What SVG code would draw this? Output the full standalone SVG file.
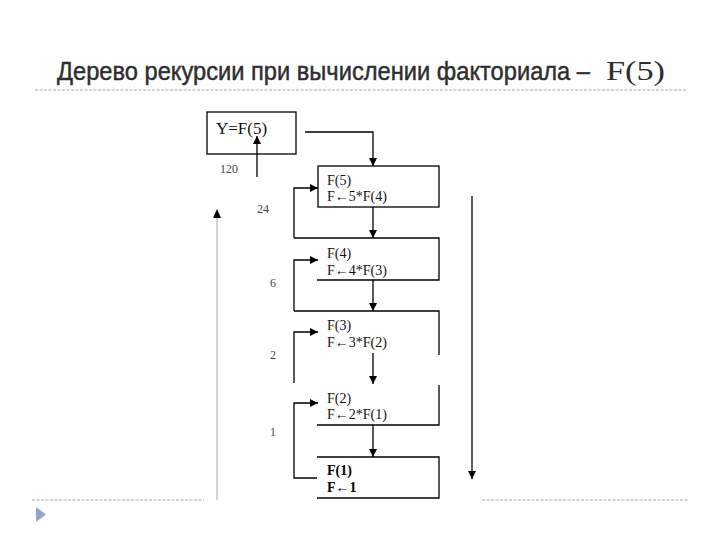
<svg xmlns="http://www.w3.org/2000/svg" width="720" height="540" viewBox="0 0 720 540">
<style>
.title{font-family:"Liberation Sans","DejaVu Sans",sans-serif;font-size:22.5px;fill:#2e2e2e;stroke:#2e2e2e;stroke-width:0.4;}
.titleF{font-family:"Liberation Serif","DejaVu Serif",serif;font-size:27px;fill:#2e2e2e;}
.box{fill:none;stroke:#000;stroke-width:1.3;}
.t{font-family:"Liberation Serif","Times New Roman",serif;font-size:14px;fill:#111;}
.tb{font-family:"Liberation Serif","Times New Roman",serif;font-size:14px;fill:#000;font-weight:bold;}
.ty{font-family:"Liberation Serif","Times New Roman",serif;font-size:17px;fill:#111;}
.lbl{font-family:"Liberation Serif","Times New Roman",serif;font-size:12px;fill:#444;}
.con{fill:none;stroke:#000;stroke-width:1.3;}
.dot{stroke:#aaa;stroke-width:1;stroke-dasharray:3,1.5;}
</style>
<defs>
<marker id="ah" markerUnits="userSpaceOnUse" markerWidth="8" markerHeight="8" refX="8" refY="4" orient="auto">
<path d="M0,0 L8,4 L0,8 Z" fill="#000"/>
</marker>
</defs>
<rect width="720" height="540" fill="#fff"/>
<g id="title">
<text class="title" transform="translate(57,80) scale(1,1.15)" x="0" y="0" textLength="533" lengthAdjust="spacingAndGlyphs">Дерево рекурсии при вычислении факториала –</text>
<text class="titleF" x="606" y="80" textLength="59" lengthAdjust="spacingAndGlyphs">F(5)</text>
<line class="dot" x1="35" y1="90" x2="686" y2="90"/>
</g>
<g id="footer">
<line class="dot" x1="32" y1="500" x2="204" y2="500"/>
<line class="dot" x1="482" y1="500" x2="688" y2="500"/>
<path d="M36,507 L46,514.5 L36,522 Z" fill="#8fa9c8"/>
</g>
<g id="node-y">
<rect class="box" x="207" y="112" width="89" height="42"/>
<text class="ty" x="216" y="134">Y=F(5)</text>
</g>
<g id="node-f5">
<rect class="box" x="318" y="166" width="121" height="41"/>
<text class="t" x="327" y="185">F(5)</text>
<text class="t" x="327" y="201">F←5*F(4)</text>
</g>
<g id="node-f4">
<path class="box" d="M294,238 H439 V280 H317"/>
<text class="t" x="327" y="258">F(4)</text>
<text class="t" x="327" y="275">F←4*F(3)</text>
</g>
<g id="node-f3">
<path class="box" d="M294,311 H439 V355"/>
<text class="t" x="327" y="330">F(3)</text>
<text class="t" x="327" y="347">F←3*F(2)</text>
</g>
<g id="node-f2">
<path class="box" d="M439,385 V425 H317"/>
<text class="t" x="327" y="403">F(2)</text>
<text class="t" x="327" y="419">F←2*F(1)</text>
</g>
<g id="node-f1">
<path class="box" d="M317,457 H439 V498 H317"/>
<text class="tb" x="327" y="475">F(1)</text>
<text class="tb" x="327" y="492">F←1</text>
</g>
<g id="connectors">
<path class="con" d="M305,132 H373 V166" marker-end="url(#ah)"/>
<path class="con" d="M373,207 V238" marker-end="url(#ah)"/>
<path class="con" d="M373,280 V311" marker-end="url(#ah)"/>
<path class="con" d="M373,353 V384" marker-end="url(#ah)"/>
<path class="con" d="M373,425 V457" marker-end="url(#ah)"/>
<path class="con" d="M294,238 V188 H318" marker-end="url(#ah)"/>
<path class="con" d="M294,311 V260 H318" marker-end="url(#ah)"/>
<path class="con" d="M294,383 V332 H318" marker-end="url(#ah)"/>
<path class="con" d="M317,478 H294 V403 H318" marker-end="url(#ah)"/>
<path class="con" d="M257,177 V136" marker-end="url(#ah)"/>
<path fill="none" stroke="#bbb" stroke-width="1.3" d="M217,500 V217"/>
<path d="M213,218 L217,209 L221,218 Z" fill="#000"/>
<path class="con" d="M472,196 V479" marker-end="url(#ah)"/>
<text class="lbl" x="220" y="173">120</text>
<text class="lbl" x="257" y="213">24</text>
<text class="lbl" x="270" y="287">6</text>
<text class="lbl" x="270" y="359">2</text>
<text class="lbl" x="270" y="436">1</text>
</g>
</svg>
